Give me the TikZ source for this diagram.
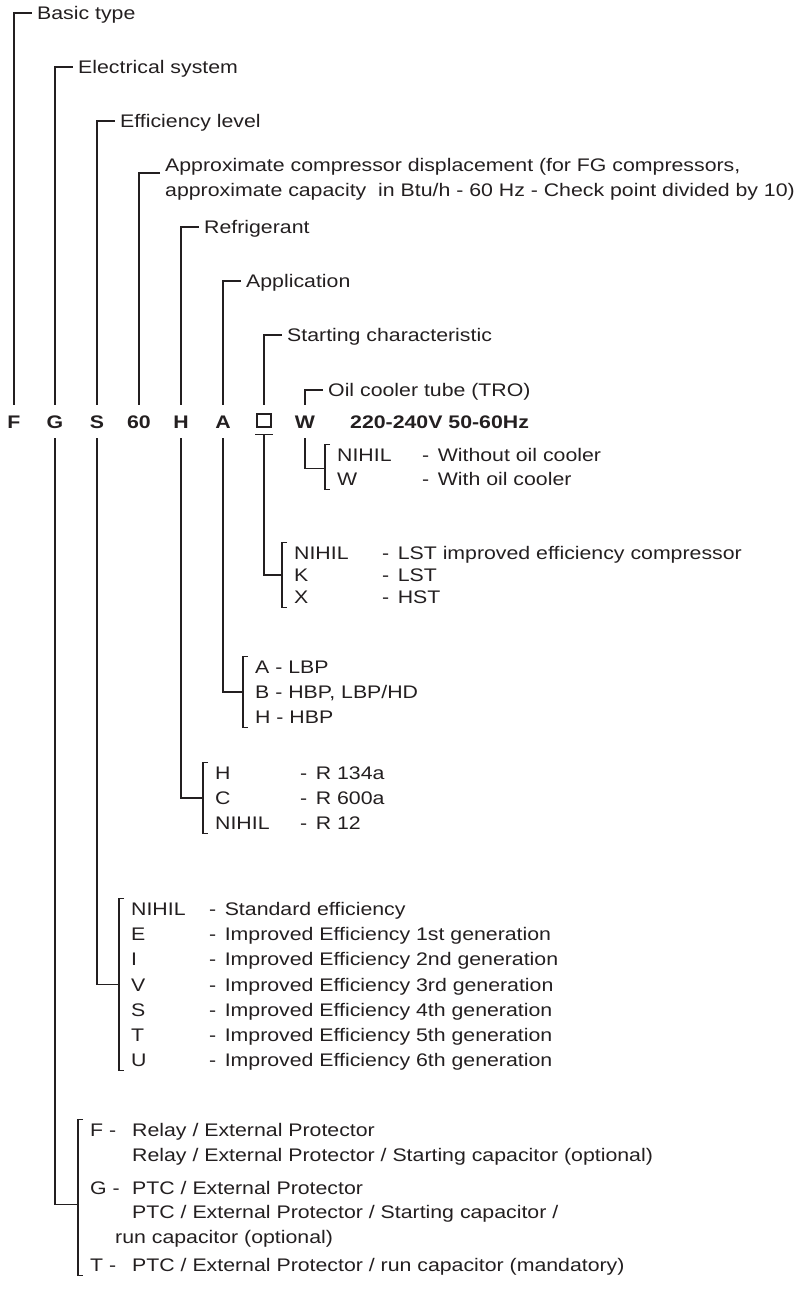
\documentclass[tikz,border=0pt]{standalone}
\usepackage{fontspec}
\setmainfont[FakeStretch=1.17]{Liberation Sans}
\usetikzlibrary{positioning, calc}
\definecolor{ink}{HTML}{231F20}
\newcommand\optrow[3]{\makebox[#1][l]{#2}-\hspace{8.5pt}#3}
\newcommand\optbracket[2]{%
	\draw[wire] ([xshift=-7pt,yshift=10.5pt]#1.west) -- ([xshift=-12pt,yshift=10.5pt]#1.west)
	-- ([xshift=-12pt,yshift=-10.5pt]#2.west) -- ([xshift=-7pt,yshift=-10.5pt]#2.west);}

\begin{document}
\begin{tikzpicture}[
		x=1pt, y=-1pt,
		every node/.style={font=\fontsize{18.2}{25}\selectfont, text=ink},
		codechar/.style={font=\fontsize{18.2}{25}\selectfont\bfseries, anchor=base,
			inner xsep=0pt, inner ysep=10pt, text height=13pt, text depth=0pt},
		lbl/.style={anchor=west, inner xsep=5pt, inner ysep=0pt,
			text height=13pt, text depth=0pt},
		opt/.style={anchor=base west, inner sep=0pt, text height=13pt, text depth=0pt},
		wire/.style={draw=ink, line width=1.1pt},
		]
		\useasboundingbox (0,0) rectangle (802,1290);

		% Type code
		\foreach \n/\x/\t in {c1/14/F, c2/55/G, c3/97/S, c4/139/60, c5/181/H,
				c6/223/A, c7/264/{\phantom{W}}, c8/305/W} {
			\node[codechar] (\n) at (\x,428) {\t};
		}
		\node[draw=ink, line width=2.4pt, minimum width=14.5pt, minimum height=12.5pt,
			inner sep=0pt] (sqbox) at (264,420.5) {};
		\node[codechar, anchor=base west] (volt) at (350,428) {220-240V 50-60Hz};

		% Field names
		\foreach \n/\x/\y/\t in {c1/32/13/Basic type, c2/73/67/Electrical system,
				c3/115/121/Efficiency level, c5/199/227/Refrigerant,
				c6/241/281/Application, c7/282/335/Starting characteristic,
				c8/323/390/Oil cooler tube (TRO)} {
			\node[lbl] (l\n) at (\x,\y) {\t};
			\draw[wire] (\n.north) |- (l\n.west);
		}
		\node[lbl, anchor=base west, align=left] (lc4) at (160,196)
		{Approximate compressor displacement (for FG compressors,\\
			approximate capacity\ \ in Btu/h - 60 Hz - Check point divided by 10)};
		\draw[wire] (c4.north) |- ([yshift=23pt]lc4.base west);

		% Oil cooler
		\node[opt] (w1) at (337,461.5) {\optrow{85pt}{NIHIL}{Without oil cooler}};
		\node[opt] (w2) at (337,485.5) {\optrow{85pt}{W}{With oil cooler}};
		\optbracket{w1}{w2}
		\draw[wire] (c8.south) |- ([xshift=-12pt]$(w1.west)!0.55!(w2.west)$);

		% Starting characteristic
		\foreach \k/\d [count=\i] in {NIHIL/LST improved efficiency compressor,
				K/LST, X/HST} {
			\node[opt] (q\i) at (294,{559.5+(\i-1)*22}) {\optrow{88pt}{\k}{\d}};
		}
		\optbracket{q1}{q3}
		\draw[wire] ([xshift=-9pt,yshift=4pt]c7.south) -- ([xshift=9pt,yshift=4pt]c7.south);
		\draw[wire] ([yshift=4pt]c7.south) |- ([xshift=-12pt]q2.west);

		% Application
		\foreach \t [count=\i] in {A - LBP, {B - HBP, LBP/HD}, H - HBP} {
			\node[opt] (a\i) at (255,{673.5+(\i-1)*25}) {\t};
		}
		\optbracket{a1}{a3}
		\draw[wire] (c6.south) |- ([xshift=-12pt]a2.west);

		% Refrigerant
		\foreach \k/\d [count=\i] in {H/R 134a, C/R 600a, NIHIL/R 12} {
			\node[opt] (h\i) at (215,{779.5+(\i-1)*25}) {\optrow{85pt}{\k}{\d}};
		}
		\optbracket{h1}{h3}
		\draw[wire] (c5.south) |- ([xshift=-12pt]h2.west);

		% Efficiency level
		\foreach \k/\d [count=\i] in {NIHIL/Standard efficiency,
				E/Improved Efficiency 1st generation, I/Improved Efficiency 2nd generation,
				V/Improved Efficiency 3rd generation, S/Improved Efficiency 4th generation,
				T/Improved Efficiency 5th generation, U/Improved Efficiency 6th generation} {
			\node[opt] (s\i) at (131,{915.5+(\i-1)*25.17}) {\optrow{78pt}{\k}{\d}};
		}
		\optbracket{s1}{s7}
		\draw[wire] (c3.south) |- ([xshift=-12pt]s4.west);

		% Electrical system
		\node[opt] (g1) at (90,1136.5) {\makebox[42pt][l]{F -}Relay / External Protector};
		\node[opt] (g2) at (90,1161.5) {\hspace{42pt}Relay / External Protector / Starting capacitor (optional)};
		\node[opt] (g3) at (90,1194.5) {\makebox[42pt][l]{G -}PTC / External Protector};
		\node[opt] (g4) at (90,1218.5) {\hspace{42pt}PTC / External Protector / Starting capacitor /};
		\node[opt] (g5) at (90,1243.5) {\hspace{25pt}run capacitor (optional)};
		\node[opt] (g6) at (90,1271.5) {\makebox[42pt][l]{T -}PTC / External Protector / run capacitor (mandatory)};
		\optbracket{g1}{g6}
		\draw[wire] (c2.south) |- ([xshift=-12pt]$(g3.west)!0.7!(g4.west)$);
	\end{tikzpicture}
\end{document}
